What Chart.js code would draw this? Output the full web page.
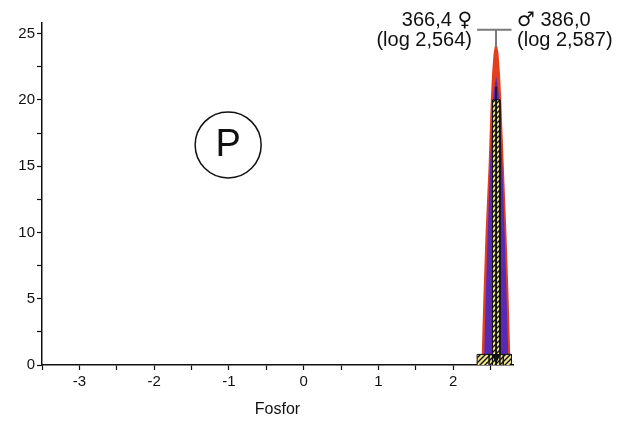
<!DOCTYPE html>
<html>
<head>
<meta charset="utf-8">
<script src="https://cdn.jsdelivr.net/npm/chart.js@4/dist/chart.umd.min.js"></script>
<style>
  html, body { margin: 0; padding: 0; background: #fff; }
  #wrap { width: 631px; height: 423px; }
</style>
</head>
<body>
<div id="wrap"><canvas id="chart" width="631" height="423"></canvas></div>
<script>
// Fitted curve, females (red)
const femaleX = [2.39, 2.40, 2.42, 2.45, 2.49, 2.52, 2.537, 2.557, 2.573, 2.589, 2.609, 2.626, 2.66, 2.695, 2.725, 2.745, 2.755];
const femaleY = [0, 1, 5, 10, 15, 20, 22, 23.5, 24, 23.5, 22, 20, 15, 10, 5, 1, 0];
// Fitted curve, males (blue)
const maleX = [2.425, 2.435, 2.455, 2.482, 2.513, 2.545, 2.562, 2.575, 2.588, 2.605, 2.637, 2.668, 2.695, 2.715, 2.725];
const maleY = [0, 1, 5, 10, 15, 19, 20.5, 21, 20.5, 19, 15, 10, 5, 1, 0];
// Histogram bins
const histEdges = [2.32, 2.48, 2.525, 2.575, 2.625, 2.67, 2.78];
const histCounts = [0.8, 0.8, 20, 20, 0.8, 0.8];
// Means
const meanLog = 2.573;
const meanLine = [0, 21];
const bracketY = 25.3;
const bracketX = [2.32, 2.78];
const femaleLabel = ['366,4 ', '\u2640', '(log 2,564)'];
const maleLabel = ['\u2642', ' 386,0', '(log 2,587)'];
const elementLabel = 'P';
const elementPos = [-1.01, 16.6];
const xTitle = 'Fosfor';

const FONT = "'Liberation Sans', Arial, sans-serif";
const SYM = "'DejaVu Sans', sans-serif";

function pts(xs, ys) { return xs.map((x, i) => ({ x: x, y: ys[i] })); }

function histPoints(edges, counts) {
    const out = [{ x: edges[0], y: 0 }];
    counts.forEach((c, i) => {
        out.push({ x: edges[i], y: c });
        out.push({ x: edges[i + 1], y: c });
        out.push({ x: edges[i + 1], y: 0 });
    });
    return out;
}

function hatch() {
    const c = document.createElement('canvas');
    c.width = 5; c.height = 5;
    const g = c.getContext('2d');
    g.fillStyle = '#efe48a';
    g.fillRect(0, 0, 5, 5);
    g.strokeStyle = '#111';
    g.lineWidth = 1.4;
    g.beginPath();
    g.moveTo(0, 5); g.lineTo(5, 0);
    g.moveTo(-1, 1); g.lineTo(1, -1);
    g.moveTo(4, 6); g.lineTo(6, 4);
    g.stroke();
    return g.createPattern(c, 'repeat');
}

const annotations = {
    id: 'annotations',
    afterDraw(chart) {
        const ctx = chart.ctx;
        const xs = chart.scales.x, ys = chart.scales.y;
        const cx = xs.getPixelForValue(meanLog);
        ctx.save();
        ctx.fillStyle = '#111';
        ctx.textBaseline = 'alphabetic';
        // female label, right aligned
        const rx = cx - 24;
        ctx.font = '20px ' + SYM;
        const symW = ctx.measureText(femaleLabel[1]).width;
        ctx.textAlign = 'right';
        ctx.fillText(femaleLabel[1], rx, 26);
        ctx.font = '20px ' + FONT;
        ctx.fillText(femaleLabel[0], rx - symW, 26);
        ctx.fillText(femaleLabel[2], rx, 46);
        // male label, left aligned
        const lx = cx + 21;
        ctx.textAlign = 'left';
        ctx.font = '20px ' + SYM;
        const mW = ctx.measureText(maleLabel[0]).width;
        ctx.fillText(maleLabel[0], lx, 26);
        ctx.font = '20px ' + FONT;
        ctx.fillText(maleLabel[1], lx + mW, 26);
        ctx.fillText(maleLabel[2], lx, 46);
        // circled element symbol
        const px = xs.getPixelForValue(elementPos[0]);
        const py = ys.getPixelForValue(elementPos[1]);
        ctx.beginPath();
        ctx.arc(px, py, 33, 0, Math.PI * 2);
        ctx.lineWidth = 1.5;
        ctx.strokeStyle = '#111';
        ctx.stroke();
        ctx.font = '38px ' + FONT;
        ctx.textAlign = 'center';
        ctx.textBaseline = 'middle';
        ctx.fillText(elementLabel, px, py + 1);
        ctx.restore();
    }
};

const red = 'rgb(228,62,32)';
const blue = 'rgb(88,42,178)';

new Chart(document.getElementById('chart'), {
    type: 'line',
    data: {
        datasets: [
            {
                data: pts(femaleX, femaleY),
                borderColor: red, backgroundColor: red, borderWidth: 2.5,
                fill: 'origin', tension: 0, pointRadius: 0, order: 6
            },
            {
                data: pts(maleX, maleY),
                borderColor: blue, backgroundColor: blue, borderWidth: 3,
                fill: 'origin', tension: 0, pointRadius: 0, order: 5
            },
            {
                data: histPoints(histEdges, histCounts),
                borderColor: '#111', backgroundColor: hatch(), borderWidth: 1,
                fill: 'origin', tension: 0, pointRadius: 0, order: 4
            },
            {
                data: pts([meanLog, meanLog], meanLine),
                borderColor: '#111', borderWidth: 1.5, pointRadius: 0, order: 3
            },
            {
                data: pts([meanLog, meanLog], [femaleY[8], bracketY]),
                borderColor: '#7a7a7a', borderWidth: 2, pointRadius: 0, order: 2
            },
            {
                data: pts(bracketX, [bracketY, bracketY]),
                borderColor: '#7a7a7a', borderWidth: 2, pointRadius: 0, order: 2
            },
            {
                data: [{ x: meanLog, y: 0.6 }],
                showLine: false, pointStyle: 'triangle', rotation: 180,
                pointRadius: 5, backgroundColor: '#111', borderColor: '#111', order: 1
            }
        ]
    },
    options: {
        responsive: false,
        animation: false,
        devicePixelRatio: 1,
        layout: { padding: { top: 23, right: 118, left: 0, bottom: 0 } },
        plugins: { legend: { display: false }, tooltip: { enabled: false } },
        scales: {
            x: {
                type: 'linear', min: -3.5, max: 2.8,
                border: { color: '#111', width: 1.5 },
                grid: { drawOnChartArea: false, drawTicks: true, tickLength: 5, color: '#111', tickWidth: 1.2 },
                ticks: {
                    stepSize: 0.5, includeBounds: false, padding: 3, color: '#111', maxRotation: 0, autoSkip: false,
                    font: { family: FONT, size: 15 },
                    callback: v => Number.isInteger(v) ? String(v) : ''
                },
                title: { display: true, text: xTitle, color: '#111', font: { family: FONT, size: 16 }, padding: { top: 6, bottom: 4 } },
                afterFit: s => { s.height = 58; }
            },
            y: {
                type: 'linear', min: 0, max: 25.8,
                border: { color: '#111', width: 1.5 },
                grid: { drawOnChartArea: false, drawTicks: true, tickLength: 5, color: '#111', tickWidth: 1.2 },
                ticks: {
                    stepSize: 2.5, includeBounds: false, padding: 2, color: '#111', autoSkip: false,
                    font: { family: FONT, size: 15 },
                    callback: v => (v % 5 === 0) ? String(v) : ''
                },
                afterFit: s => { s.width = 42; }
            }
        }
    },
    plugins: [annotations]
});
</script>
</body>
</html>
